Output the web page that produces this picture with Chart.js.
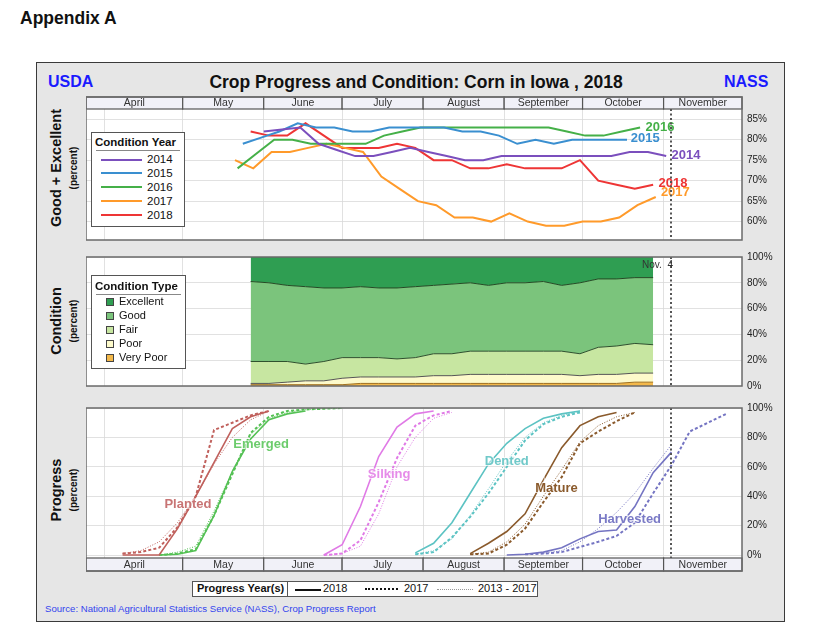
<!DOCTYPE html>
<html><head><meta charset="utf-8">
<script src="https://cdn.jsdelivr.net/npm/chart.js@4.4.1/dist/chart.umd.min.js"></script>
<style>
body{margin:0;background:#fff;width:820px;height:643px;position:relative;font-family:"Liberation Sans",Arial,Helvetica,sans-serif;overflow:hidden;color:#111}
.a{position:absolute;white-space:nowrap}
#frame{left:36px;top:62px;width:749px;height:560px;background:#e6e6e6;border:1.5px solid #3a3a3a;box-sizing:border-box}
canvas{position:absolute}
.rot{position:absolute;transform:translate(-50%,-50%) rotate(-90deg);white-space:nowrap}
.lgbox{position:absolute;background:#fff;border:1.5px solid #555;box-sizing:border-box}
.lt{position:absolute;font-weight:bold;font-size:11.5px}
.li{position:absolute;font-size:11.5px;line-height:13px}
.sw{position:absolute;height:2px}
.sq{position:absolute;width:6px;height:6px;border:1px solid #444}
</style></head><body>
<div class="a" style="left:20px;top:8px;font-size:17.5px;font-weight:bold">Appendix A</div>
<div id="frame" class="a"></div>
<div class="a" style="left:48px;top:73px;font-size:16px;font-weight:bold;color:#1a1aff">USDA</div>
<div class="a" style="left:724px;top:73px;font-size:16px;font-weight:bold;color:#1a1aff">NASS</div>
<div class="a" style="left:416px;top:72px;transform:translateX(-50%);font-size:17.5px;font-weight:bold">Crop Progress and Condition: Corn in Iowa , 2018</div>

<div class="rot" style="left:56px;top:168px;font-size:14.5px;font-weight:bold">Good + Excellent</div>
<div class="rot" style="left:73px;top:168px;font-size:10px;font-weight:bold">(percent)</div>
<div class="rot" style="left:56px;top:321px;font-size:14.5px;font-weight:bold">Condition</div>
<div class="rot" style="left:73px;top:321px;font-size:10px;font-weight:bold">(percent)</div>
<div class="rot" style="left:56px;top:490px;font-size:14.5px;font-weight:bold">Progress</div>
<div class="rot" style="left:73px;top:490px;font-size:10px;font-weight:bold">(percent)</div>

<canvas id="cTop" width="699" height="162" style="left:86px;top:89px"></canvas>
<canvas id="cMid" width="699" height="151" style="left:86px;top:246px"></canvas>
<canvas id="cBot" width="699" height="176" style="left:86px;top:397px"></canvas>

<div id="lgYear" class="lgbox" style="left:91px;top:132px;width:94px;height:95px"></div>
<div id="lgType" class="lgbox" style="left:91px;top:275px;width:95px;height:94px"></div>

<div class="lgbox" style="left:192px;top:581px;width:346px;height:16px;border-width:1.2px"></div>
<div class="a" style="left:197px;top:582px;font-size:11px;font-weight:bold">Progress Year(s)</div>
<div class="a" style="left:287px;top:581px;width:1px;height:16px;background:#555"></div>
<div class="a" style="left:295px;top:589px;width:26px;border-top:2px solid #111"></div>
<div class="a" style="left:323px;top:582px;font-size:11px">2018</div>
<div class="a" style="left:365px;top:588px;width:33px;border-top:2.5px dotted #111"></div>
<div class="a" style="left:404px;top:582px;font-size:11px">2017</div>
<div class="a" style="left:437px;top:589px;width:36px;border-top:1.5px dotted #999"></div>
<div class="a" style="left:478px;top:582px;font-size:11px">2013 - 2017</div>
<div class="a" style="left:45px;top:603px;font-size:9.6px;color:#3344ee">Source: National Agricultural Statistics Service (NASS), Crop Progress Report</div>

<script>
// ---------- axis / calendar ----------
const DAY_MIN = 84, DAY_MAX = 335;           // day-of-year range of the x axis
const monthNames = ['April','May','June','July','August','September','October','November'];
const monthStartDays = [91,121,152,182,213,244,274,305];
const reportDay = 308;                        // Nov. 4
const reportLabel = 'Nov.  4';

// ---------- Good + Excellent by year (weekly) ----------
const condYears  = ['2014','2015','2016','2017','2018'];
const condStarts = [152,144,142,141,147];
const cond2014 = [82,82.5,83,79,77.5,76,76,77,78,77,76,75,75,76,76,76,76,76,76,76,77,77,76];
const cond2015 = [79,80.5,82,84,83,83,82,82,83,83,83,83,82,82,81,79,80,79,80,80,80,80];
const cond2016 = [73,76.5,80,80,79,79,79,79,81,82,83,83,83,83,83,83,83,83,82,81,81,82,83];
const cond2017 = [75,73,77,77,78,79,78,77,71,68,65,64,61,61,60,62,60,59,59,60,60,61,64,66];
const cond2018 = [82,81,81,84,81,78,78,78,79,78,75,75,73,73,74,73,73,73,75,70,69,68,69];
const topTicks = [60,65,70,75,80,85];

// ---------- 2018 condition by type (weekly from May 27) ----------
const condTypeStart = 147;
const condTypes = ['Excellent','Good','Fair','Poor','Very Poor'];
const excellent = [19,20,22,23,24,24,23,24,24,23,22,21,20,22,20,20,19,22,20,17,17,16,16];
const good      = [62,61,59,60,57,54,55,54,55,55,53,54,53,51,53,53,54,51,55,53,52,51,52];
const fair      = [17,17,16,13,15,16,15,15,14,15,17,17,18,18,18,18,18,18,17,21,22,23,22];
const poor      = [1,1,2,3,3,5,5,5,5,5,6,6,7,7,7,7,7,7,6,7,7,7,7];
const veryPoor  = [1,1,1,1,1,1,2,2,2,2,2,2,2,2,2,2,2,2,2,2,2,3,3];
const pctTicks = [0,20,40,60,80,100];

// ---------- progress (weekly) ----------
const plantedStart = 98;
const planted2018 = [0,0,0,18,40,63,86,94,98];
const planted2017 = [1,2,5,19,40,85,90,95,98];
const plantedAvg  = [1,3,9,22,40,62,80,92,98];
const emergedStart = 112;
const emerged2018 = [0,0.5,3,27,57,79,92,96,98];
const emerged2017 = [0,1,4,27,55,83,94,98,99,99.5,100];
const emergedAvg  = [0,2,6,30,57,82,93,97,99,99.5,100];
const silkingStart = 175;
const silking2018 = [0,7,33,67,87,96,98];
const silking2017 = [0,1,10,36,66,88,95,98];
const silkingAvg  = [0,1,6,28,60,80,93,97];
const dentedStart = 210;
const dented2018 = [1.5,8,22,42,62,76,86,93,96,98];
const dented2017 = [0.5,2,12,26,42,60,78,89,94,97];
const dentedAvg  = [0.5,3,11,27,45,64,80,90,95,98];
const matureStart = 231;
const mature2018 = [1,8,16,28,51,73,88,94,97];
const mature2017 = [0.5,1,7,18,36,53,76,84,91,97];
const matureAvg  = [0.5,2,9,21,40,58,77,88,94,97];
const harvestedStart2018 = 245, harvestedStart2017 = 252, harvestedStartAvg = 259;
const harvested2018 = [0,0.5,2,5,11,16,17,33,56,70];
const harvested2017 = [0.5,1,2,5.5,9,13,22,42,61,84,90,96];
const harvestedAvg  = [1,3,9,18,29,42,59,75];

// ---------- styles / placement ----------
const FONT = '"Liberation Sans", Arial, Helvetica, sans-serif';
const yearColors = ['#7b4fbd','#3a8fd0','#45b048','#ff9a2a','#ee3535'];
const typeColors = ['#2f9e52','#7bc47c','#c7e6a1','#fdfacb','#f3b84a'];
const typeBorders = ['rgba(0,0,0,0)','#244a24','#2d4f2d','#555','#a0701e'];
const stageColors = {Planted:'#c0605c',Emerged:'#55c155',Silking:'#e07ae6',Dented:'#5cc3c3',Mature:'#8a5a2c',Harvested:'#7474c2'};
const stageLabelColors = {Planted:'#c87474',Emerged:'#6ccc6c',Silking:'#e68ce9',Dented:'#70c9c9',Mature:'#8a5a2c',Harvested:'#7a7ac6'};
const yearLabelPlace = [[313.6,76.2],[298,80.2],[303.6,83.1],[309.5,67.2],[308.6,69.3]];
const stageLabelPlace = {Planted:[123,34.7],Emerged:[151,75],Silking:[200,55],Dented:[245,64],Mature:[264,45],Harvested:[292,24]};
const gridColor = 'rgba(215,215,215,0.75)';

const pts = (start, vals) => vals.map((v,i)=>({x:start+7*i, y:v}));

// ---------- plugins ----------
const panelPlugin = {
  id:'panel',
  beforeDraw(c){const a=c.chartArea,ctx=c.ctx;ctx.save();ctx.fillStyle='#fff';ctx.fillRect(a.left,a.top,a.right-a.left,a.bottom-a.top);ctx.restore();},
  afterDraw(c,args,opts){
    const a=c.chartArea,ctx=c.ctx,xs=c.scales.x;
    ctx.save();
    const rx=Math.round(xs.getPixelForValue(reportDay));
    ctx.strokeStyle='#555';ctx.lineWidth=2;ctx.setLineDash([2,2.5]);
    ctx.beginPath();ctx.moveTo(rx,a.top);ctx.lineTo(rx,a.bottom);ctx.stroke();
    ctx.setLineDash([]);
    if(opts.report){
      ctx.fillStyle='#333';ctx.font='10px '+FONT;ctx.textAlign='right';ctx.textBaseline='middle';
      ctx.fillText(reportLabel,rx+2,a.top+8);
    }
    if(opts.band){
      const h=opts.band==='top'?12:13;
      const top=opts.band==='top'?a.top-h:a.bottom;
      ctx.font='10.5px '+FONT;ctx.textAlign='center';ctx.textBaseline='middle';
      for(let i=0;i<monthNames.length;i++){
        const x0=i===0?a.left:xs.getPixelForValue(monthStartDays[i]);
        const x1=i===monthNames.length-1?a.right:xs.getPixelForValue(monthStartDays[i+1]);
        ctx.fillStyle='#f1f1f8';ctx.fillRect(x0,top,x1-x0,h);
        ctx.strokeStyle='#555';ctx.lineWidth=1.2;ctx.strokeRect(x0,top,x1-x0,h);
        ctx.fillStyle='#333';ctx.fillText(monthNames[i],(x0+x1)/2,top+h/2+0.5);
      }
    }
    ctx.strokeStyle='#6a6a6a';ctx.lineWidth=1.5;
    const t=opts.band==='top'?a.top-12:a.top, b=opts.band==='bottom'?a.bottom+13:a.bottom;
    ctx.strokeRect(a.left,t,a.right-a.left,b-t);
    ctx.restore();
  }
};
const labelPlugin = {
  id:'txt',
  afterDatasetsDraw(c,args,opts){
    if(!opts.items) return;
    const ctx=c.ctx,xs=c.scales.x,ys=c.scales.y;
    ctx.save();ctx.textAlign='center';ctx.textBaseline='middle';
    opts.items.forEach(it=>{
      ctx.font='bold 13px '+FONT;
      const x=xs.getPixelForValue(it.x),y=ys.getPixelForValue(it.y);
      if(it.halo){ctx.strokeStyle='rgba(255,255,255,0.7)';ctx.lineWidth=2;ctx.strokeText(it.text,x,y);}
      ctx.fillStyle=it.color;ctx.fillText(it.text,x,y);
    });
    ctx.restore();
  }
};

function baseOptions(yMin,yMax,yTicks,padTop,padBottom,z,panelOpts,items){
  return {
    responsive:false,animation:false,events:[],
    layout:{padding:{top:padTop,bottom:padBottom,left:0,right:0}},
    plugins:{legend:{display:false},tooltip:{enabled:false},panel:panelOpts,txt:{items:items}},
    elements:{point:{radius:0},line:{tension:0}},
    scales:{
      x:{type:'linear',min:DAY_MIN,max:DAY_MAX,z:z,
        afterBuildTicks:ax=>{ax.ticks=monthStartDays.map(v=>({value:v}));},
        afterFit:ax=>{ax.height=0;},
        ticks:{display:false},grid:{color:gridColor,drawTicks:false},border:{display:false}},
      y:{position:'right',min:yMin,max:yMax,z:z,stacked:panelOpts.stacked||false,
        afterBuildTicks:ax=>{ax.ticks=yTicks.map(v=>({value:v}));},
        afterFit:ax=>{ax.width=43;},
        ticks:{autoSkip:false,callback:v=>v+'%',font:{size:10,family:FONT},color:'#222',padding:5},
        grid:{color:gridColor,drawTicks:false},border:{display:false}}
    }
  };
}

// ---------- top chart ----------
const condSeries=[cond2014,cond2015,cond2016,cond2017,cond2018];
new Chart(document.getElementById('cTop'),{
  type:'line',
  data:{datasets:condYears.map((yr,i)=>({label:yr,data:pts(condStarts[i],condSeries[i]),borderColor:yearColors[i],borderWidth:2,fill:false}))},
  options:baseOptions(55.5,87.5,topTicks,20,8,0,{band:'top'},
    condYears.map((yr,i)=>({text:yr,x:yearLabelPlace[i][0],y:yearLabelPlace[i][1],color:yearColors[i]}))),
  plugins:[panelPlugin,labelPlugin]
});

// ---------- middle chart ----------
const typeSeries=[veryPoor,poor,fair,good,excellent];
const typeIdx=[4,3,2,1,0];
new Chart(document.getElementById('cMid'),{
  type:'line',
  data:{datasets:typeSeries.map((s,j)=>{const k=typeIdx[j];return {label:condTypes[k],data:pts(condTypeStart,s),
    backgroundColor:typeColors[k],borderColor:typeBorders[k],borderWidth:1,fill:j===0?'origin':'-1'};})},
  options:baseOptions(0,100,pctTicks,8,8,1,{stacked:true,report:true},[]),
  plugins:[panelPlugin,labelPlugin]
});

// ---------- bottom chart ----------
const stages=[
  ['Planted',plantedStart,planted2018,plantedStart,planted2017,plantedStart,plantedAvg],
  ['Emerged',emergedStart,emerged2018,emergedStart,emerged2017,emergedStart,emergedAvg],
  ['Silking',silkingStart,silking2018,silkingStart,silking2017,silkingStart,silkingAvg],
  ['Dented',dentedStart,dented2018,dentedStart,dented2017,dentedStart,dentedAvg],
  ['Mature',matureStart,mature2018,matureStart,mature2017,matureStart,matureAvg],
  ['Harvested',harvestedStart2018,harvested2018,harvestedStart2017,harvested2017,harvestedStartAvg,harvestedAvg]
];
const progDs=[];
stages.forEach(s=>{
  const col=stageColors[s[0]];
  progDs.push({label:s[0]+' avg',data:pts(s[5],s[6]),borderColor:col,borderWidth:1,borderDash:[1,1.6],fill:false});
  progDs.push({label:s[0]+' 2017',data:pts(s[3],s[4]),borderColor:col,borderWidth:2,borderDash:[3,2.2],fill:false});
  progDs.push({label:s[0]+' 2018',data:pts(s[1],s[2]),borderColor:col,borderWidth:1.6,fill:false});
});
new Chart(document.getElementById('cBot'),{
  type:'line',
  data:{datasets:progDs},
  options:baseOptions(-2,100,pctTicks,8,15,0,{band:'bottom'},
    stages.map(s=>({text:s[0],x:stageLabelPlace[s[0]][0],y:stageLabelPlace[s[0]][1],color:stageLabelColors[s[0]],halo:true}))),
  plugins:[panelPlugin,labelPlugin]
});

// ---------- HTML legends ----------
(function(){
  const ly=document.getElementById('lgYear');
  let h='<div class="lt" style="left:3px;top:3px">Condition Year</div><div class="a" style="left:4px;top:17px;width:84px;height:1px;background:#888"></div>';
  condYears.forEach((yr,i)=>{const t=20+i*13.9;
    h+='<div class="sw" style="left:9px;top:'+(t+5.5)+'px;width:41px;background:'+yearColors[i]+'"></div><div class="li" style="left:55px;top:'+t+'px">'+yr+'</div>';});
  ly.innerHTML=h;
  const lt=document.getElementById('lgType');
  h='<div class="lt" style="left:3px;top:4px">Condition Type</div><div class="a" style="left:4px;top:18px;width:85px;height:1px;background:#888"></div>';
  condTypes.forEach((nm,i)=>{const t=19+i*13.9;
    h+='<div class="sq" style="left:14px;top:'+(t+3)+'px;background:'+typeColors[i]+'"></div><div class="li" style="left:27px;top:'+t+'px;font-size:11px">'+nm+'</div>';});
  lt.innerHTML=h;
})();
</script>
</body></html>
